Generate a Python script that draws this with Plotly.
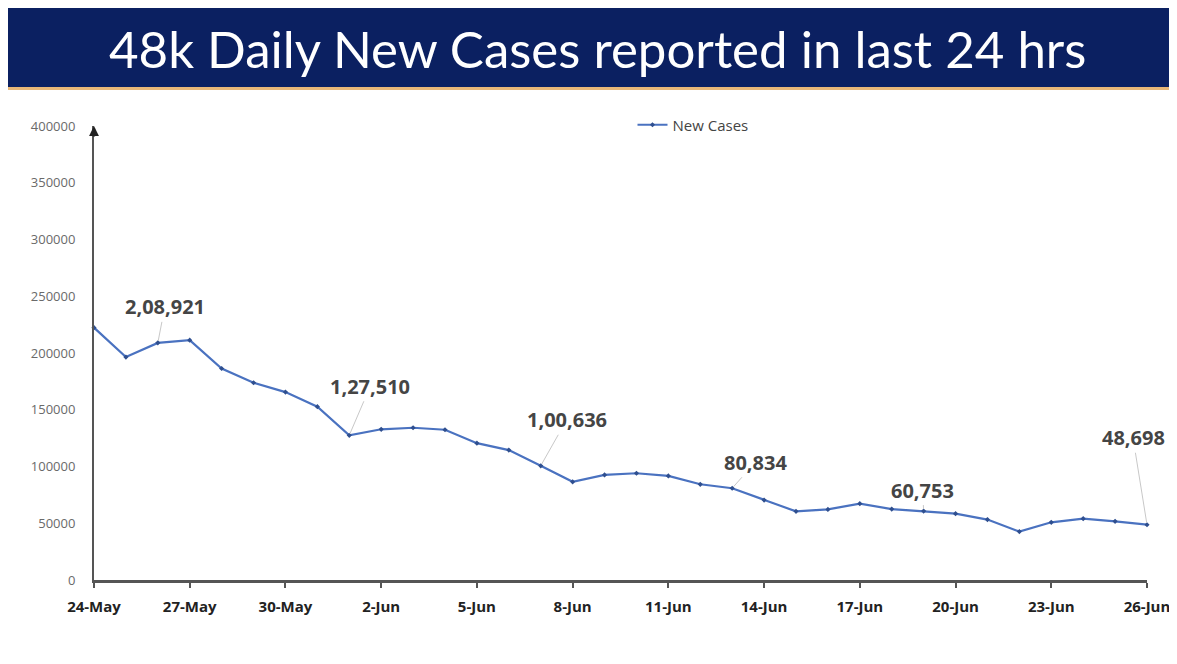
import plotly.graph_objects as go
import pandas as pd

dates = pd.date_range("2021-05-24", "2021-06-26", freq="D")
new_cases = [222315, 196427, 208921, 211298, 186364, 173790, 165553, 152734,
             127510, 132788, 134154, 132364, 120529, 114460, 100636, 86498,
             92596, 94052, 91702, 84332, 80834, 70421, 60471, 62224,
             67208, 62480, 60753, 58419, 53256, 42640, 50848, 54069,
             51667, 48698]
y_ticks = [0, 50000, 100000, 150000, 200000, 250000, 300000, 350000, 400000]
x_tick_dates = dates[::3]
x_tick_text = [d.strftime("%-d-%b") for d in x_tick_dates]

callouts = [
    ("2021-05-26", "2,08,921", 7, -36),
    ("2021-06-01", "1,27,510", 21, -49),
    ("2021-06-07", "1,00,636", 26, -46),
    ("2021-06-13", "80,834", 23, -26),
    ("2021-06-19", "60,753", -1, -21),
    ("2021-06-26", "48,698", -14, -87),
]
title_text = "48k Daily New Cases reported in last 24 hrs"

# page has an 8px body margin; figure is sized so plot lands at page px 94..1147 x 126..580
W, H = 1169, 648
L, T, PW, PH = 86, 118, 1053, 454


def px_x(px):
    return (px - 8 - L) / PW


def px_y(py):
    return 1 + (T + 8 - py) / PH


fig = go.Figure()
fig.add_trace(go.Scatter(
    x=dates, y=new_cases, mode="lines+markers", name="New Cases",
    line=dict(color="#4a72c0", width=2.2),
    marker=dict(color="#2f4f8f", size=4, symbol="diamond"),
    cliponaxis=False,
))

value_of = dict(zip([d.strftime("%Y-%m-%d") for d in dates], new_cases))
for d, txt, ax, ay in callouts:
    fig.add_annotation(
        x=d, y=value_of[d], text="<b>%s</b>" % txt, showarrow=True,
        arrowhead=0, arrowwidth=1, arrowcolor="#c8c8c8",
        ax=ax, ay=ay, font=dict(family="Open Sans", size=20, color="#454545"),
        standoff=2,
    )

# y-axis arrow head
fig.add_annotation(x=dates[0], y=400000, ax=0, ay=12, showarrow=True,
                   arrowhead=2, arrowsize=0.9, arrowwidth=2.2, arrowcolor="#222222",
                   text="", xref="x", yref="y", startstandoff=0)

# title banner
fig.add_shape(type="rect", xref="paper", yref="paper",
              x0=px_x(6), x1=px_x(1180),
              y0=px_y(87), y1=px_y(8),
              fillcolor="#0b2061", line=dict(width=0), layer="below")
fig.add_shape(type="rect", xref="paper", yref="paper",
              x0=px_x(6), x1=px_x(1180),
              y0=px_y(90), y1=px_y(87),
              fillcolor="#e9b878", line=dict(width=0), layer="below")
fig.add_annotation(xref="paper", yref="paper",
                   x=px_x(597), y=px_y(48),
                   text=title_text, showarrow=False,
                   font=dict(family="Lato", size=51, color="white"),
                   xanchor="center", yanchor="middle")

fig.update_layout(
    width=W, height=H,
    margin=dict(l=L, r=W - L - PW, t=T, b=H - T - PH),
    paper_bgcolor="white", plot_bgcolor="white",
    showlegend=True,
    legend=dict(orientation="h", x=px_x(693), xanchor="center",
                y=px_y(125), yanchor="middle",
                font=dict(family="Open Sans", size=15, color="#444444"),
                bgcolor="rgba(0,0,0,0)"),
    xaxis=dict(
        range=[dates[0], dates[-1]],
        tickvals=list(x_tick_dates), ticktext=x_tick_text,
        showgrid=False, zeroline=False, automargin=False,
        showline=True, linecolor="#555555", linewidth=3,
        ticks="outside", ticklen=5, tickwidth=2, tickcolor="#555555",
        ticklabelstandoff=6,
        tickfont=dict(family="Open Sans", size=15, color="#222222", weight="bold"),
    ),
    yaxis=dict(
        range=[0, 400000], tickvals=y_ticks,
        ticktext=[str(v) for v in y_ticks],
        showgrid=False, zeroline=False, automargin=False,
        showline=True, linecolor="#555555", linewidth=2,
        ticks="", ticklabelstandoff=14,
        tickfont=dict(family="Open Sans", size=13, color="#6a6a6a"),
    ),
)

fig.write_html("out.html")
